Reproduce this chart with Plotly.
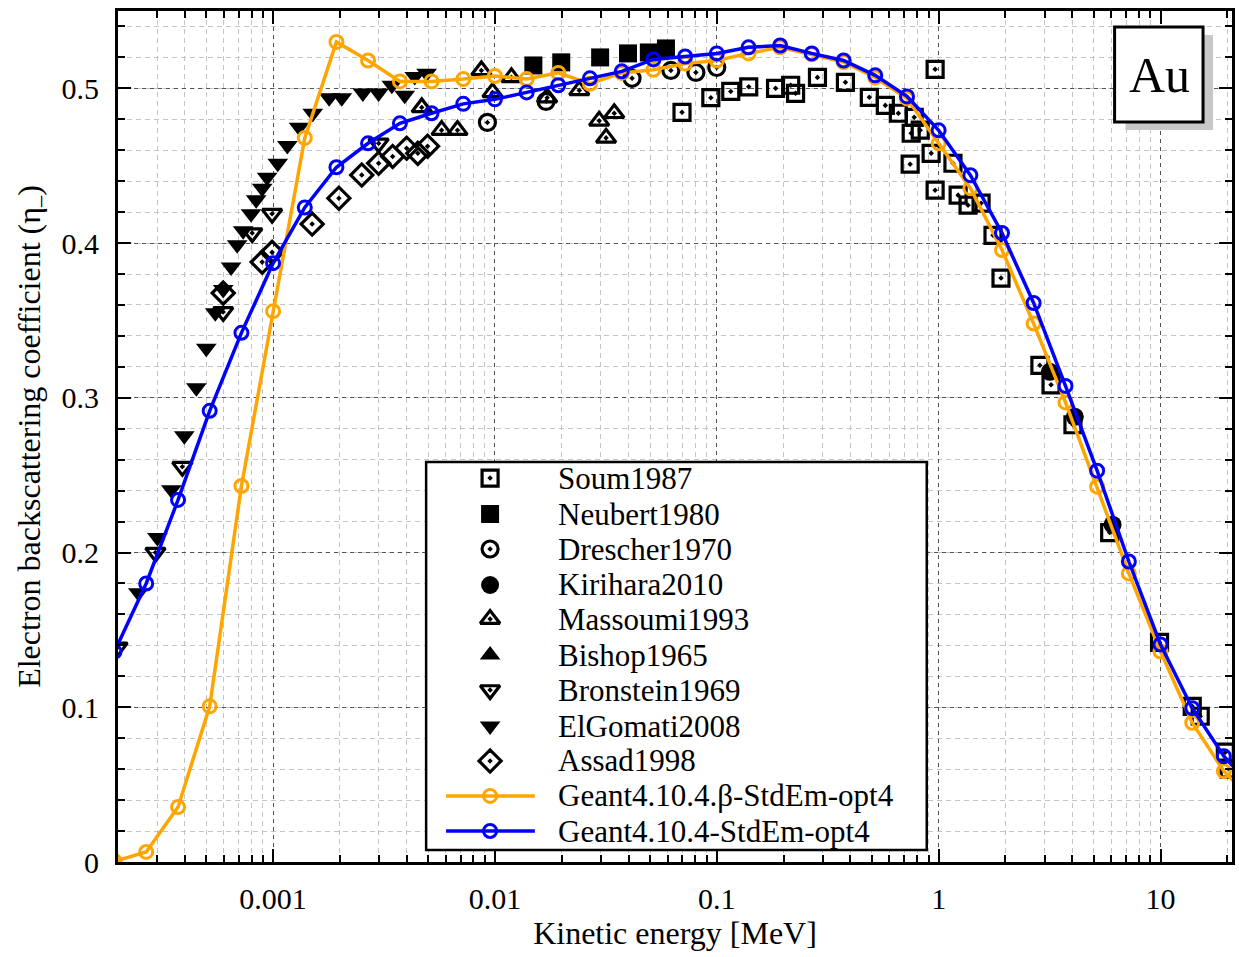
import math
import plotly.graph_objects as go

# ---------------- Geant4 simulations (shared energy grid, MeV) ----------------
g4_energy = [0.000193, 0.000268, 0.000373, 0.000518, 0.00072, 0.001, 0.00139, 0.00193,
             0.00268, 0.00373, 0.00518, 0.0072, 0.01, 0.0139, 0.0193, 0.0268, 0.0373,
             0.0518, 0.072, 0.1, 0.139, 0.193, 0.268, 0.373, 0.518, 0.72, 1.0, 1.39,
             1.93, 2.68, 3.73, 5.18, 7.2, 10.0, 13.9, 19.3, 26.8]
eta_g4_beta = [0.0005, 0.0065, 0.0355, 0.1006, 0.243, 0.356, 0.468, 0.530, 0.518, 0.5045,
               0.5045, 0.506, 0.508, 0.506, 0.510, 0.503, 0.510, 0.512, 0.516, 0.518,
               0.5226, 0.5265, 0.522, 0.517, 0.507, 0.4935, 0.4645, 0.4355, 0.3955, 0.348,
               0.297, 0.2426, 0.1865, 0.136, 0.090, 0.0587, 0.038]
eta_g4 = [0.136, 0.180, 0.234, 0.2916, 0.342, 0.387, 0.423, 0.449, 0.4645, 0.4774,
          0.4839, 0.490, 0.4929, 0.4974, 0.502, 0.5065, 0.511, 0.5187, 0.5206, 0.5226,
          0.5265, 0.5277, 0.5226, 0.518, 0.5084, 0.4948, 0.4729, 0.4439, 0.4065, 0.3613,
          0.3077, 0.2529, 0.1942, 0.1406, 0.0994, 0.0684, 0.046]

# ---------------- experimental data ----------------
soum_E = [0.0697, 0.094, 0.1156, 0.1393, 0.184, 0.2153, 0.2265, 0.2843, 0.380, 0.487,
          0.575, 0.658, 0.776, 0.752, 0.826, 0.744, 0.964, 0.925, 0.964, 1.16, 1.224,
          1.357, 1.553, 1.758, 1.910, 2.86, 3.21, 4.03, 5.90, 9.90, 13.9, 15.1, 19.6, 20.4]
soum_eta = [0.4845, 0.494, 0.498, 0.501, 0.500, 0.502, 0.4968, 0.5071, 0.5039, 0.4942,
            0.489, 0.4839, 0.4813, 0.471, 0.473, 0.451, 0.5123, 0.458, 0.4342, 0.4516,
            0.431, 0.4245, 0.4258, 0.405, 0.3774, 0.321, 0.3084, 0.2826, 0.2129, 0.1419,
            0.1006, 0.0942, 0.071, 0.060]

neubert_E = [0.0149, 0.0199, 0.0298, 0.0398, 0.0494, 0.0590]
neubert_eta = [0.5148, 0.5168, 0.520, 0.5226, 0.5232, 0.5258]

drescher_E = [0.00925, 0.0170, 0.0415, 0.0621, 0.0805, 0.100]
drescher_eta = [0.478, 0.4916, 0.5065, 0.5116, 0.5103, 0.5135]

kirihara_E = [3.17, 4.11, 6.08]
kirihara_eta = [0.3168, 0.2877, 0.218]

massoumi_E = [0.00468, 0.00575, 0.00678, 0.00869, 0.00975, 0.01187, 0.0172, 0.0240,
              0.0295, 0.0345, 0.0317]
massoumi_eta = [0.4877, 0.473, 0.473, 0.5116, 0.4974, 0.5071, 0.494, 0.4987, 0.479,
                0.4839, 0.468]

bishop_E = [3.3]
bishop_eta = [0.316]

bronstein_E = [0.000199, 0.000295, 0.000390, 0.000596, 0.000805, 0.000990, 0.00299]
bronstein_eta = [0.1387, 0.200, 0.2555, 0.3555, 0.4065, 0.419, 0.4645]

elgomati_E = [0.000247, 0.000301, 0.000348, 0.000398, 0.000451, 0.000500, 0.000549,
              0.000596, 0.000647, 0.000689, 0.000733, 0.000796, 0.000839, 0.000893,
              0.000940, 0.00105, 0.00116, 0.00131, 0.00151, 0.00179, 0.00204, 0.00254,
              0.00299, 0.00343, 0.00392, 0.00435, 0.00492]
elgomati_eta = [0.174, 0.2097, 0.2406, 0.2755, 0.3065, 0.332, 0.355, 0.370, 0.3845,
                0.399, 0.408, 0.419, 0.428, 0.4355, 0.4426, 0.4516, 0.463, 0.4748,
                0.4839, 0.494, 0.494, 0.497, 0.497, 0.502, 0.4955, 0.5077, 0.5097]

assad_E = [0.000596, 0.000893, 0.000990, 0.00150, 0.00198, 0.00251, 0.00299, 0.00346,
           0.00400, 0.00449, 0.00497]
assad_eta = [0.3677, 0.3877, 0.394, 0.4123, 0.429, 0.444, 0.4516, 0.456, 0.4613,
             0.458, 0.4626]

# axis ticks
x_tickvals = [0.001, 0.01, 0.1, 1, 10]
x_ticktext = ["0.001", "0.01", "0.1", "1", "10"]
x_minorvals = [m * 10.0 ** d for d in range(-4, 2) for m in range(2, 10)]
y_tickvals = [0, 0.1, 0.2, 0.3, 0.4, 0.5]
y_ticktext = ["0", "0.1", "0.2", "0.3", "0.4", "0.5"]

X_RANGE = [math.log10(0.0002), math.log10(21.0)]
Y_RANGE = [0.0, 0.55]

SERIF = "Liberation Serif"
ORANGE = "#FFA500"
BLUE = "#0000FF"

# (name, x, y, symbol, size)
experiments = [
    ("Soum1987", soum_E, soum_eta, "square-open-dot", 16),
    ("Neubert1980", neubert_E, neubert_eta, "square", 18),
    ("Drescher1970", drescher_E, drescher_eta, "circle-open-dot", 16),
    ("Kirihara2010", kirihara_E, kirihara_eta, "circle", 18),
    ("Massoumi1993", massoumi_E, massoumi_eta, "triangle-up-open-dot", 17),
    ("Bishop1965", bishop_E, bishop_eta, "triangle-up", 18),
    ("Bronstein1969", bronstein_E, bronstein_eta, "triangle-down-open-dot", 17),
    ("ElGomati2008", elgomati_E, elgomati_eta, "triangle-down", 18),
    ("Assad1998", assad_E, assad_eta, "diamond-open-dot", 17),
]
simulations = [
    ("Geant4.10.4.β-StdEm-opt4", eta_g4_beta, ORANGE),
    ("Geant4.10.4-StdEm-opt4", eta_g4, BLUE),
]


def marker_style(symbol, size):
    if "open" in symbol:
        return dict(symbol=symbol, size=size, color="black", line=dict(color="black", width=3.2))
    return dict(symbol=symbol, size=size, color="black", line=dict(width=0))


def sim_marker(col):
    return dict(symbol="circle-open", size=13, color=col, line=dict(color=col, width=3))


fig = go.Figure()

for name, xs, ys, sym, sz in experiments:
    fig.add_trace(go.Scatter(x=xs, y=ys, mode="markers", name=name, showlegend=False,
                             marker=marker_style(sym, sz)))

for name, ys, col in simulations:
    fig.add_trace(go.Scatter(x=g4_energy, y=ys, mode="lines+markers", name=name,
                             showlegend=False, line=dict(color=col, width=3.5),
                             marker=sim_marker(col)))

# ---------------- hand-built legend (overlay axes in plot-area fractions) ----------------
leg_box = (0.2766, 0.7260, 0.0141, 0.4700)      # x0, x1, y0, y1 as plot fractions
leg_rows = [0.4512, 0.4089, 0.3678, 0.3255, 0.2855, 0.2432, 0.2021, 0.1598, 0.1187, 0.0776, 0.0364]
leg_mark_x = 0.3340
leg_line_x = (0.2945, 0.3742)
leg_text_x = 0.3930


def frac_to_x(f):
    return 10 ** (X_RANGE[0] + f * (X_RANGE[1] - X_RANGE[0]))


def frac_to_y(f):
    return Y_RANGE[0] + f * (Y_RANGE[1] - Y_RANGE[0])


for i, (name, _, _, sym, sz) in enumerate(experiments):
    fig.add_trace(go.Scatter(x=[leg_mark_x], y=[leg_rows[i]], mode="markers",
                             xaxis="x2", yaxis="y2", showlegend=False, hoverinfo="skip",
                             marker=marker_style(sym, sz)))
for j, (name, _, col) in enumerate(simulations):
    row = leg_rows[len(experiments) + j]
    fig.add_trace(go.Scatter(x=list(leg_line_x), y=[row, row], mode="lines",
                             xaxis="x2", yaxis="y2", showlegend=False, hoverinfo="skip",
                             line=dict(color=col, width=3.5)))
    fig.add_trace(go.Scatter(x=[leg_mark_x], y=[row], mode="markers",
                             xaxis="x2", yaxis="y2", showlegend=False, hoverinfo="skip",
                             marker=sim_marker(col)))

legend_names = [e[0] for e in experiments] + [s[0] for s in simulations]
annotations = []
for name, row in zip(legend_names, leg_rows):
    annotations.append(dict(x=leg_text_x, y=row, xref="paper", yref="paper", text=name,
                            showarrow=False, xanchor="left", yanchor="middle",
                            font=dict(family=SERIF, size=31, color="black")))

# element label box
annotations.append(dict(x=0.9350, y=0.9250, xref="paper", yref="paper", text="Au",
                        showarrow=False, xanchor="center", yanchor="middle",
                        font=dict(family=SERIF, size=50, color="black")))

shapes = [
    # legend frame, drawn between grid and data
    dict(type="rect", xref="x", yref="y", layer="between",
         x0=frac_to_x(leg_box[0]), x1=frac_to_x(leg_box[1]),
         y0=frac_to_y(leg_box[2]), y1=frac_to_y(leg_box[3]),
         fillcolor="white", line=dict(color="black", width=2.5)),
    # label box shadow and box
    dict(type="rect", xref="paper", yref="paper", layer="above",
         x0=0.9044, x1=0.9830, y0=0.8602, y1=0.9718,
         fillcolor="#c8c8c8", line=dict(width=0)),
    dict(type="rect", xref="paper", yref="paper", layer="above",
         x0=0.8946, x1=0.9740, y0=0.8696, y1=0.9812,
         fillcolor="white", line=dict(color="black", width=3)),
]

axis_common = dict(
    showline=True, linewidth=3, linecolor="black", mirror="allticks",
    ticks="inside", ticklen=13, tickwidth=2, tickcolor="black",
    showgrid=True, gridcolor="#555555", gridwidth=1, griddash="4px,4px",
    zeroline=False, tickfont=dict(family=SERIF, size=30, color="black"),
)

fig.update_layout(
    width=1239, height=957,
    margin=dict(l=118, r=4, t=11, b=95),
    paper_bgcolor="white", plot_bgcolor="white",
    showlegend=False,
    font=dict(family=SERIF, color="black"),
    xaxis=dict(type="log", range=X_RANGE, tickmode="array", tickvals=x_tickvals,
               ticktext=x_ticktext, ticklabelstandoff=8,
               minor=dict(tickmode="array", tickvals=x_minorvals, ticks="inside",
                          ticklen=7, tickwidth=2, tickcolor="black", showgrid=True,
                          gridcolor="#c4c4c4", gridwidth=1, griddash="5px,4px"),
               title=dict(text="Kinetic energy [MeV]", standoff=4,
                          font=dict(family=SERIF, size=32, color="black")),
               **axis_common),
    yaxis=dict(range=Y_RANGE, tickmode="array", tickvals=y_tickvals, ticktext=y_ticktext,
               ticklabelstandoff=10,
               minor=dict(dtick=0.02, ticks="inside", ticklen=7, tickwidth=2,
                          tickcolor="black", showgrid=True, gridcolor="#c4c4c4",
                          gridwidth=1, griddash="5px,4px"),
               title=dict(text="Electron backscattering coefficient (η<sub>–</sub>)",
                          standoff=12, font=dict(family=SERIF, size=32, color="black")),
               **axis_common),
    xaxis2=dict(overlaying="x", range=[0, 1], visible=False, fixedrange=True),
    yaxis2=dict(overlaying="y", range=[0, 1], visible=False, fixedrange=True),
    annotations=annotations,
    shapes=shapes,
)

fig.write_html("out.html")
